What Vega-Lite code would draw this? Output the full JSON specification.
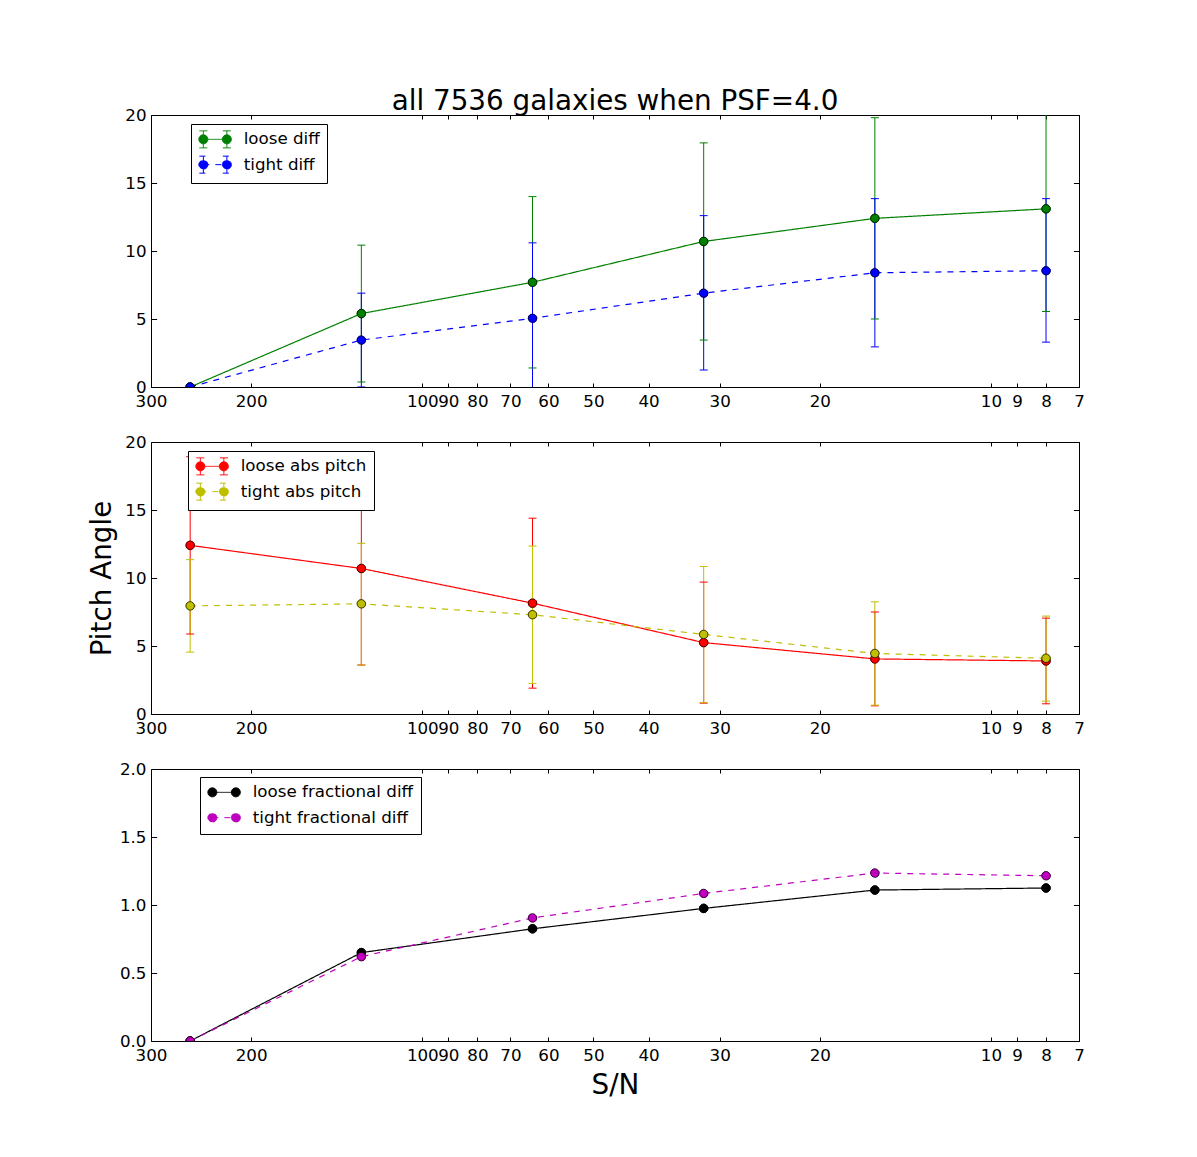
{
  "$schema": "https://vega.github.io/schema/vega-lite/v6.json",
  "padding": {"left": 88, "top": 87, "right": 10, "bottom": 10},
  "title": {"text": "all 7536 galaxies when PSF=4.0", "offset": -9, "anchor": "middle", "frame": "group"},
  "datasets": {
    "p1": [
      {"series": "loose diff", "sn": 256, "value": 0, "lo": 0, "hi": 0},
      {"series": "loose diff", "sn": 128, "value": 5.4, "lo": 0.37, "hi": 10.43},
      {"series": "loose diff", "sn": 64, "value": 7.7, "lo": 1.4, "hi": 14.0},
      {"series": "loose diff", "sn": 32, "value": 10.7, "lo": 3.45, "hi": 17.95},
      {"series": "loose diff", "sn": 16, "value": 12.4, "lo": 5.0, "hi": 19.8},
      {"series": "loose diff", "sn": 8, "value": 13.1, "lo": 5.55, "hi": 20.65},
      {"series": "tight diff", "sn": 256, "value": 0, "lo": 0, "hi": 0},
      {"series": "tight diff", "sn": 128, "value": 3.45, "lo": 0.0, "hi": 6.9},
      {"series": "tight diff", "sn": 64, "value": 5.05, "lo": -0.5, "hi": 10.6},
      {"series": "tight diff", "sn": 32, "value": 6.9, "lo": 1.25, "hi": 12.6},
      {"series": "tight diff", "sn": 16, "value": 8.4, "lo": 2.95, "hi": 13.85},
      {"series": "tight diff", "sn": 8, "value": 8.55, "lo": 3.3, "hi": 13.85}
    ],
    "p2": [
      {"series": "loose abs pitch", "sn": 256, "value": 12.4, "lo": 5.88, "hi": 18.92},
      {"series": "loose abs pitch", "sn": 128, "value": 10.7, "lo": 3.6, "hi": 17.8},
      {"series": "loose abs pitch", "sn": 64, "value": 8.15, "lo": 1.9, "hi": 14.4},
      {"series": "loose abs pitch", "sn": 32, "value": 5.25, "lo": 0.8, "hi": 9.7},
      {"series": "loose abs pitch", "sn": 16, "value": 4.05, "lo": 0.6, "hi": 7.5},
      {"series": "loose abs pitch", "sn": 8, "value": 3.9, "lo": 0.75, "hi": 7.05},
      {"series": "tight abs pitch", "sn": 256, "value": 7.95, "lo": 4.55, "hi": 11.35},
      {"series": "tight abs pitch", "sn": 128, "value": 8.1, "lo": 3.6, "hi": 12.55},
      {"series": "tight abs pitch", "sn": 64, "value": 7.3, "lo": 2.25, "hi": 12.35},
      {"series": "tight abs pitch", "sn": 32, "value": 5.85, "lo": 0.85, "hi": 10.85},
      {"series": "tight abs pitch", "sn": 16, "value": 4.45, "lo": 0.65, "hi": 8.25},
      {"series": "tight abs pitch", "sn": 8, "value": 4.1, "lo": 0.95, "hi": 7.2}
    ],
    "p3": [
      {"series": "loose fractional diff", "sn": 256, "value": 0},
      {"series": "loose fractional diff", "sn": 128, "value": 0.65},
      {"series": "loose fractional diff", "sn": 64, "value": 0.825},
      {"series": "loose fractional diff", "sn": 32, "value": 0.975},
      {"series": "loose fractional diff", "sn": 16, "value": 1.11},
      {"series": "loose fractional diff", "sn": 8, "value": 1.125},
      {"series": "tight fractional diff", "sn": 256, "value": 0},
      {"series": "tight fractional diff", "sn": 128, "value": 0.62},
      {"series": "tight fractional diff", "sn": 64, "value": 0.905},
      {"series": "tight fractional diff", "sn": 32, "value": 1.085},
      {"series": "tight fractional diff", "sn": 16, "value": 1.235},
      {"series": "tight fractional diff", "sn": 8, "value": 1.215}
    ]
  },
  "bounds": "flush",
  "spacing": 55,
  "vconcat": [
    {
      "width": 928,
      "height": 272,
      "data": {"name": "p1"},
      "layer": [
        {
          "mark": {"type": "point", "filled": true, "size": 72, "opacity": 1, "strokeWidth": 1, "clip": true},
          "encoding": {
            "x": {"field": "sn", "type": "quantitative", "scale": {"type": "log", "domain": [7, 300], "reverse": true}, "axis": null},
            "y": {"field": "value", "type": "quantitative", "scale": {"domain": [0, 20], "nice": false}, "axis": null},
            "color": {"field": "series", "type": "nominal", "scale": {"domain": ["loose diff", "tight diff"], "range": ["#008000", "#0000ff"]},
              "legend": {"title": null, "orient": "none", "legendX": 40, "legendY": 9, "zindex": 1, "symbolOpacity": 1, "symbolStrokeWidth": 1, "rowPadding": 3.3,
                "symbolType": "M-3,0H20.5M1.5,0A4.5,4.5,0,1,1,-7.5,0A4.5,4.5,0,1,1,1.5,0ZM25,0A4.5,4.5,0,1,1,16,0A4.5,4.5,0,1,1,25,0ZM-3,-8.5V8.5M-7,-8.5H1M-7,8.5H1M20.5,-8.5V8.5M16.5,-8.5H24.5M16.5,8.5H24.5"}},
            "stroke": {"field": "series", "type": "nominal", "scale": {"domain": ["loose diff", "tight diff"], "range": ["#008000", "#0000ff"]}},
            "strokeDash": {"field": "series", "type": "nominal", "scale": {"domain": ["loose diff", "tight diff"], "range": [[1, 0], [6, 6]]}}
          }
        },
        {
          "mark": {"type": "rule", "clip": true, "strokeWidth": 1},
          "encoding": {
            "x": {"field": "sn", "type": "quantitative", "scale": {"type": "log", "domain": [7, 300], "reverse": true},
              "axis": {"orient": "bottom", "values": [300, 200, 100, 90, 80, 70, 60, 50, 40, 30, 20, 10, 9, 8, 7], "format": "d", "tickSize": -4, "labelPadding": 10, "title": null}},
            "y": {"field": "lo", "type": "quantitative", "scale": {"domain": [0, 20], "nice": false},
              "axis": {"orient": "left", "values": [0, 5, 10, 15, 20], "format": "d", "tickSize": -5.6, "labelPadding": 10.6, "title": null}},
            "y2": {"field": "hi"},
            "color": {"field": "series", "type": "nominal", "scale": {"domain": ["loose diff", "tight diff"], "range": ["#008000", "#0000ff"]}}
          }
        },
        {
          "mark": {"type": "tick", "orient": "horizontal", "size": 8, "thickness": 1, "opacity": 1, "clip": true},
          "encoding": {
            "x": {"field": "sn", "type": "quantitative", "scale": {"type": "log", "domain": [7, 300], "reverse": true}, "axis": null},
            "y": {"field": "lo", "type": "quantitative", "scale": {"domain": [0, 20], "nice": false}, "axis": null},
            "color": {"field": "series", "type": "nominal", "scale": {"domain": ["loose diff", "tight diff"], "range": ["#008000", "#0000ff"]}}
          }
        },
        {
          "mark": {"type": "tick", "orient": "horizontal", "size": 8, "thickness": 1, "opacity": 1, "clip": true},
          "encoding": {
            "x": {"field": "sn", "type": "quantitative", "scale": {"type": "log", "domain": [7, 300], "reverse": true}, "axis": null},
            "y": {"field": "hi", "type": "quantitative", "scale": {"domain": [0, 20], "nice": false}, "axis": null},
            "color": {"field": "series", "type": "nominal", "scale": {"domain": ["loose diff", "tight diff"], "range": ["#008000", "#0000ff"]}}
          }
        },
        {
          "mark": {"type": "line", "strokeWidth": 1.2, "clip": true},
          "encoding": {
            "x": {"field": "sn", "type": "quantitative", "scale": {"type": "log", "domain": [7, 300], "reverse": true},
              "axis": {"orient": "top", "values": [300, 200, 100, 90, 80, 70, 60, 50, 40, 30, 20, 10, 9, 8, 7], "labels": false, "tickSize": -4, "title": null}},
            "y": {"field": "value", "type": "quantitative", "scale": {"domain": [0, 20], "nice": false},
              "axis": {"orient": "right", "values": [0, 5, 10, 15, 20], "labels": false, "tickSize": -5.6, "title": null}},
            "color": {"field": "series", "type": "nominal", "scale": {"domain": ["loose diff", "tight diff"], "range": ["#008000", "#0000ff"]}},
            "strokeDash": {"field": "series", "type": "nominal", "scale": {"domain": ["loose diff", "tight diff"], "range": [[1, 0], [6, 6]]}}
          }
        },
        {
          "mark": {"type": "point", "filled": true, "size": 72, "opacity": 1, "stroke": "black", "strokeWidth": 0.7, "clip": true},
          "encoding": {
            "x": {"field": "sn", "type": "quantitative", "scale": {"type": "log", "domain": [7, 300], "reverse": true}, "axis": null},
            "y": {"field": "value", "type": "quantitative", "scale": {"domain": [0, 20], "nice": false}, "axis": null},
            "color": {"field": "series", "type": "nominal", "scale": {"domain": ["loose diff", "tight diff"], "range": ["#008000", "#0000ff"]}}
          }
        }
      ],
      "resolve": {"axis": {"x": "independent", "y": "independent"}}
    },
    {
      "width": 928,
      "height": 272,
      "data": {"name": "p2"},
      "layer": [
        {
          "mark": {"type": "point", "filled": true, "size": 72, "opacity": 1, "strokeWidth": 1, "clip": true},
          "encoding": {
            "x": {"field": "sn", "type": "quantitative", "scale": {"type": "log", "domain": [7, 300], "reverse": true}, "axis": null},
            "y": {"field": "value", "type": "quantitative", "scale": {"domain": [0, 20], "nice": false}, "axis": null},
            "color": {"field": "series", "type": "nominal", "scale": {"domain": ["loose abs pitch", "tight abs pitch"], "range": ["#ff0000", "#bfbf00"]},
              "legend": {"title": null, "orient": "none", "legendX": 37, "legendY": 9, "zindex": 1, "symbolOpacity": 1, "symbolStrokeWidth": 1, "rowPadding": 3.3,
                "symbolType": "M-3,0H20.5M1.5,0A4.5,4.5,0,1,1,-7.5,0A4.5,4.5,0,1,1,1.5,0ZM25,0A4.5,4.5,0,1,1,16,0A4.5,4.5,0,1,1,25,0ZM-3,-8.5V8.5M-7,-8.5H1M-7,8.5H1M20.5,-8.5V8.5M16.5,-8.5H24.5M16.5,8.5H24.5"}},
            "stroke": {"field": "series", "type": "nominal", "scale": {"domain": ["loose abs pitch", "tight abs pitch"], "range": ["#ff0000", "#bfbf00"]}},
            "strokeDash": {"field": "series", "type": "nominal", "scale": {"domain": ["loose abs pitch", "tight abs pitch"], "range": [[1, 0], [6, 6]]}}
          }
        },
        {
          "mark": {"type": "rule", "clip": true, "strokeWidth": 1},
          "encoding": {
            "x": {"field": "sn", "type": "quantitative", "scale": {"type": "log", "domain": [7, 300], "reverse": true},
              "axis": {"orient": "bottom", "values": [300, 200, 100, 90, 80, 70, 60, 50, 40, 30, 20, 10, 9, 8, 7], "format": "d", "tickSize": -4, "labelPadding": 10, "title": null}},
            "y": {"field": "lo", "type": "quantitative", "scale": {"domain": [0, 20], "nice": false},
              "axis": {"orient": "left", "values": [0, 5, 10, 15, 20], "format": "d", "tickSize": -5.6, "labelPadding": 10.6, "title": "Pitch Angle", "titlePadding": 8}},
            "y2": {"field": "hi"},
            "color": {"field": "series", "type": "nominal", "scale": {"domain": ["loose abs pitch", "tight abs pitch"], "range": ["#ff0000", "#bfbf00"]}}
          }
        },
        {
          "mark": {"type": "tick", "orient": "horizontal", "size": 8, "thickness": 1, "opacity": 1, "clip": true},
          "encoding": {
            "x": {"field": "sn", "type": "quantitative", "scale": {"type": "log", "domain": [7, 300], "reverse": true}, "axis": null},
            "y": {"field": "lo", "type": "quantitative", "scale": {"domain": [0, 20], "nice": false}, "axis": null},
            "color": {"field": "series", "type": "nominal", "scale": {"domain": ["loose abs pitch", "tight abs pitch"], "range": ["#ff0000", "#bfbf00"]}}
          }
        },
        {
          "mark": {"type": "tick", "orient": "horizontal", "size": 8, "thickness": 1, "opacity": 1, "clip": true},
          "encoding": {
            "x": {"field": "sn", "type": "quantitative", "scale": {"type": "log", "domain": [7, 300], "reverse": true}, "axis": null},
            "y": {"field": "hi", "type": "quantitative", "scale": {"domain": [0, 20], "nice": false}, "axis": null},
            "color": {"field": "series", "type": "nominal", "scale": {"domain": ["loose abs pitch", "tight abs pitch"], "range": ["#ff0000", "#bfbf00"]}}
          }
        },
        {
          "mark": {"type": "line", "strokeWidth": 1.2, "clip": true},
          "encoding": {
            "x": {"field": "sn", "type": "quantitative", "scale": {"type": "log", "domain": [7, 300], "reverse": true},
              "axis": {"orient": "top", "values": [300, 200, 100, 90, 80, 70, 60, 50, 40, 30, 20, 10, 9, 8, 7], "labels": false, "tickSize": -4, "title": null}},
            "y": {"field": "value", "type": "quantitative", "scale": {"domain": [0, 20], "nice": false},
              "axis": {"orient": "right", "values": [0, 5, 10, 15, 20], "labels": false, "tickSize": -5.6, "title": null}},
            "color": {"field": "series", "type": "nominal", "scale": {"domain": ["loose abs pitch", "tight abs pitch"], "range": ["#ff0000", "#bfbf00"]}},
            "strokeDash": {"field": "series", "type": "nominal", "scale": {"domain": ["loose abs pitch", "tight abs pitch"], "range": [[1, 0], [6, 6]]}}
          }
        },
        {
          "mark": {"type": "point", "filled": true, "size": 72, "opacity": 1, "stroke": "black", "strokeWidth": 0.7, "clip": true},
          "encoding": {
            "x": {"field": "sn", "type": "quantitative", "scale": {"type": "log", "domain": [7, 300], "reverse": true}, "axis": null},
            "y": {"field": "value", "type": "quantitative", "scale": {"domain": [0, 20], "nice": false}, "axis": null},
            "color": {"field": "series", "type": "nominal", "scale": {"domain": ["loose abs pitch", "tight abs pitch"], "range": ["#ff0000", "#bfbf00"]}}
          }
        }
      ],
      "resolve": {"axis": {"x": "independent", "y": "independent"}}
    },
    {
      "width": 928,
      "height": 272,
      "data": {"name": "p3"},
      "layer": [
        {
          "mark": {"type": "point", "filled": true, "size": 72, "opacity": 1, "strokeWidth": 1, "clip": true},
          "encoding": {
            "x": {"field": "sn", "type": "quantitative", "scale": {"type": "log", "domain": [7, 300], "reverse": true}, "axis": null},
            "y": {"field": "value", "type": "quantitative", "scale": {"domain": [0, 2], "nice": false}, "axis": null},
            "color": {"field": "series", "type": "nominal", "scale": {"domain": ["loose fractional diff", "tight fractional diff"], "range": ["#000000", "#bf00bf"]},
              "legend": {"title": null, "orient": "none", "legendX": 49, "legendY": 8, "zindex": 1, "symbolOpacity": 1, "symbolStrokeWidth": 1,
                "symbolType": "M-3,0H20.5M1.5,0A4.5,4.5,0,1,1,-7.5,0A4.5,4.5,0,1,1,1.5,0ZM25,0A4.5,4.5,0,1,1,16,0A4.5,4.5,0,1,1,25,0Z"}},
            "stroke": {"field": "series", "type": "nominal", "scale": {"domain": ["loose fractional diff", "tight fractional diff"], "range": ["#000000", "#bf00bf"]}},
            "strokeDash": {"field": "series", "type": "nominal", "scale": {"domain": ["loose fractional diff", "tight fractional diff"], "range": [[1, 0], [6, 6]]}}
          }
        },
        {
          "mark": {"type": "line", "strokeWidth": 1.2, "clip": true},
          "encoding": {
            "x": {"field": "sn", "type": "quantitative", "scale": {"type": "log", "domain": [7, 300], "reverse": true},
              "axis": {"orient": "bottom", "values": [300, 200, 100, 90, 80, 70, 60, 50, 40, 30, 20, 10, 9, 8, 7], "format": "d", "tickSize": -4, "labelPadding": 10, "title": "S/N", "titlePadding": 8}},
            "y": {"field": "value", "type": "quantitative", "scale": {"domain": [0, 2], "nice": false},
              "axis": {"orient": "left", "values": [0, 0.5, 1, 1.5, 2], "format": ".1f", "tickSize": -5.6, "labelPadding": 10.6, "title": null}},
            "color": {"field": "series", "type": "nominal", "scale": {"domain": ["loose fractional diff", "tight fractional diff"], "range": ["#000000", "#bf00bf"]}},
            "strokeDash": {"field": "series", "type": "nominal", "scale": {"domain": ["loose fractional diff", "tight fractional diff"], "range": [[1, 0], [6, 6]]}}
          }
        },
        {
          "mark": {"type": "point", "filled": true, "size": 72, "opacity": 1, "stroke": "black", "strokeWidth": 0.7, "clip": true},
          "encoding": {
            "x": {"field": "sn", "type": "quantitative", "scale": {"type": "log", "domain": [7, 300], "reverse": true},
              "axis": {"orient": "top", "values": [300, 200, 100, 90, 80, 70, 60, 50, 40, 30, 20, 10, 9, 8, 7], "labels": false, "tickSize": -4, "title": null}},
            "y": {"field": "value", "type": "quantitative", "scale": {"domain": [0, 2], "nice": false},
              "axis": {"orient": "right", "values": [0, 0.5, 1, 1.5, 2], "labels": false, "tickSize": -5.6, "title": null}},
            "color": {"field": "series", "type": "nominal", "scale": {"domain": ["loose fractional diff", "tight fractional diff"], "range": ["#000000", "#bf00bf"]}}
          }
        }
      ],
      "resolve": {"axis": {"x": "independent", "y": "independent"}}
    }
  ],
  "resolve": {"scale": {"color": "independent", "stroke": "independent", "strokeDash": "independent"}, "legend": {"color": "independent", "stroke": "independent", "strokeDash": "independent"}},
  "config": {
    "font": "DejaVu Sans",
    "view": {"stroke": "black", "strokeWidth": 1},
    "axis": {"domain": false, "grid": false, "labelFontSize": 16.7, "labelColor": "black", "tickColor": "black", "tickWidth": 1,
      "titleFontSize": 27.8, "titleFontWeight": "normal", "titleColor": "black", "labelFlush": false, "labelOverlap": false},
    "title": {"fontSize": 27.8, "fontWeight": "normal", "color": "black"},
    "legend": {"padding": 7, "strokeColor": "black", "fillColor": "white", "cornerRadius": 0, "rowPadding": 7.3,
      "labelFontSize": 16.7, "labelColor": "black", "labelOffset": 29, "symbolSize": 4, "labelLimit": 400, "symbolStrokeWidth": 1}
  }
}
